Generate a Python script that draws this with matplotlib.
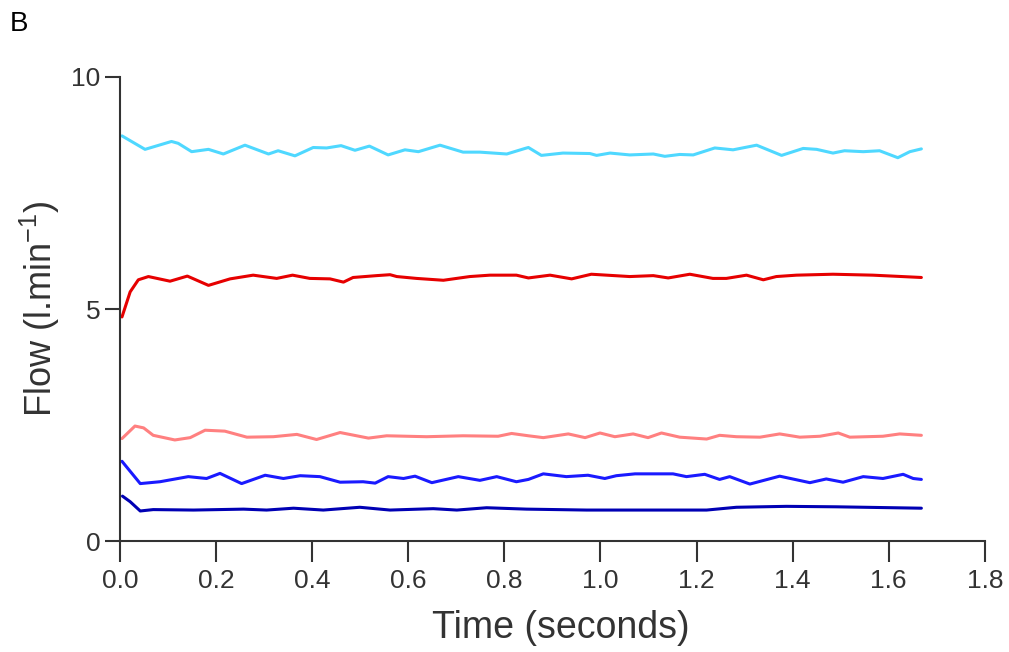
import matplotlib
matplotlib.use("Agg")
import matplotlib.pyplot as plt

# Flow traces (time in s, flow in l/min)
cyan_t = [0.004, 0.052, 0.107, 0.121, 0.149, 0.184, 0.215, 0.260, 0.309, 0.329, 0.364,
          0.402, 0.430, 0.460, 0.489, 0.519, 0.558, 0.593, 0.621, 0.666, 0.714, 0.749,
          0.805, 0.843, 0.850, 0.877, 0.922, 0.978, 0.992, 1.020, 1.061, 1.110, 1.134,
          1.165, 1.193, 1.238, 1.276, 1.325, 1.377, 1.422, 1.450, 1.484, 1.508, 1.547,
          1.581, 1.619, 1.644, 1.668]
cyan_f = [8.73, 8.44, 8.61, 8.57, 8.39, 8.44, 8.34, 8.53, 8.34, 8.41, 8.30,
          8.48, 8.47, 8.52, 8.42, 8.51, 8.32, 8.43, 8.39, 8.53, 8.38, 8.38,
          8.34, 8.46, 8.48, 8.31, 8.36, 8.35, 8.31, 8.36, 8.32, 8.34, 8.29,
          8.33, 8.32, 8.47, 8.43, 8.53, 8.31, 8.46, 8.44, 8.36, 8.41, 8.39,
          8.41, 8.26, 8.39, 8.45]

red_t = [0.004, 0.021, 0.038, 0.059, 0.104, 0.140, 0.184, 0.229, 0.277, 0.326, 0.359,
         0.395, 0.437, 0.465, 0.485, 0.534, 0.562, 0.576, 0.617, 0.673, 0.728, 0.770,
         0.825, 0.850, 0.895, 0.940, 0.981, 1.061, 1.110, 1.141, 1.186, 1.234, 1.262,
         1.304, 1.339, 1.366, 1.408, 1.484, 1.567, 1.668]
red_f = [4.83, 5.37, 5.63, 5.70, 5.60, 5.71, 5.51, 5.65, 5.73, 5.66, 5.73,
         5.66, 5.65, 5.58, 5.68, 5.72, 5.74, 5.70, 5.66, 5.62, 5.70, 5.73,
         5.73, 5.67, 5.73, 5.65, 5.75, 5.70, 5.72, 5.67, 5.75, 5.66, 5.66,
         5.73, 5.63, 5.70, 5.73, 5.75, 5.73, 5.68]

pink_t = [0.004, 0.031, 0.049, 0.069, 0.114, 0.146, 0.177, 0.218, 0.264, 0.319, 0.368,
          0.409, 0.458, 0.517, 0.555, 0.638, 0.714, 0.787, 0.815, 0.850, 0.881, 0.933,
          0.968, 0.999, 1.030, 1.068, 1.099, 1.127, 1.165, 1.221, 1.248, 1.283, 1.332,
          1.373, 1.415, 1.457, 1.495, 1.519, 1.588, 1.623, 1.668]
pink_f = [2.21, 2.48, 2.44, 2.28, 2.18, 2.23, 2.39, 2.37, 2.24, 2.25, 2.30,
          2.19, 2.34, 2.22, 2.27, 2.25, 2.27, 2.26, 2.32, 2.27, 2.23, 2.31,
          2.23, 2.33, 2.25, 2.31, 2.23, 2.33, 2.24, 2.20, 2.28, 2.25, 2.24,
          2.31, 2.24, 2.26, 2.33, 2.24, 2.26, 2.31, 2.28]

blue_t = [0.004, 0.042, 0.083, 0.142, 0.180, 0.208, 0.253, 0.302, 0.340, 0.375, 0.416,
          0.458, 0.506, 0.531, 0.558, 0.590, 0.614, 0.649, 0.704, 0.749, 0.784, 0.825,
          0.850, 0.881, 0.929, 0.974, 1.009, 1.033, 1.072, 1.151, 1.179, 1.217, 1.248,
          1.269, 1.311, 1.373, 1.436, 1.470, 1.505, 1.547, 1.588, 1.630, 1.651, 1.668]
blue_f = [1.72, 1.24, 1.28, 1.39, 1.35, 1.46, 1.24, 1.42, 1.35, 1.41, 1.39,
          1.27, 1.28, 1.25, 1.39, 1.35, 1.40, 1.26, 1.39, 1.31, 1.39, 1.28,
          1.33, 1.45, 1.39, 1.42, 1.35, 1.41, 1.45, 1.45, 1.39, 1.44, 1.33,
          1.39, 1.23, 1.40, 1.26, 1.34, 1.27, 1.39, 1.35, 1.44, 1.35, 1.33]

navy_t = [0.005, 0.021, 0.042, 0.069, 0.153, 0.257, 0.305, 0.361, 0.423, 0.499, 0.562,
          0.652, 0.701, 0.763, 0.846, 0.971, 1.110, 1.221, 1.283, 1.387, 1.491, 1.668]
navy_f = [0.97, 0.85, 0.65, 0.68, 0.67, 0.69, 0.67, 0.71, 0.67, 0.73, 0.67,
          0.70, 0.67, 0.72, 0.69, 0.67, 0.67, 0.67, 0.73, 0.75, 0.74, 0.71]

xticks = [0.0, 0.2, 0.4, 0.6, 0.8, 1.0, 1.2, 1.4, 1.6, 1.8]
yticks = [0, 5, 10]

plt.rcParams["font.family"] = ["Liberation Sans", "DejaVu Sans"]
plt.rcParams["mathtext.fontset"] = "custom"
plt.rcParams["mathtext.rm"] = "Liberation Sans"
plt.rcParams["mathtext.it"] = "Liberation Sans"

fig = plt.figure(figsize=(10.09, 6.52), dpi=100)
ax = fig.add_axes([0.119, 0.170, 0.857, 0.712])

style = dict(linewidth=2.2, solid_joinstyle="round", solid_capstyle="round")
ax.plot(cyan_t, cyan_f, color="#4fd8ff", **style)
ax.plot(red_t, red_f, color="#e60000", **style)
ax.plot(pink_t, pink_f, color="#ff8080", **style)
ax.plot(blue_t, blue_f, color="#1a1aff", **style)
ax.plot(navy_t, navy_f, color="#0000b4", **style)

ax.set_xlim(0, 1.8)
ax.set_ylim(0, 10)
ax.set_xticks(xticks)
ax.set_xticklabels([f"{v:.1f}" for v in xticks])
ax.set_yticks(yticks)

for side in ["top", "right"]:
    ax.spines[side].set_visible(False)
for side in ["left", "bottom"]:
    ax.spines[side].set_color("#333333")
    ax.spines[side].set_linewidth(1.5)
ax.tick_params(direction="out", width=1.5, color="#333333",
               labelcolor="#333333", labelsize=19)
ax.tick_params(axis="x", length=15, pad=5)
ax.tick_params(axis="y", length=11, pad=3)

ax.set_xlabel("Time (seconds)", fontsize=27, color="#333333", labelpad=12, x=0.51)
ax.set_ylabel("Flow (l.min$^{-1}$)", fontsize=26, color="#333333", labelpad=7)

fig.text(0.010, 0.963, "B", fontsize=20, color="black", ha="left", va="center")

fig.savefig("out.png", dpi=100)
